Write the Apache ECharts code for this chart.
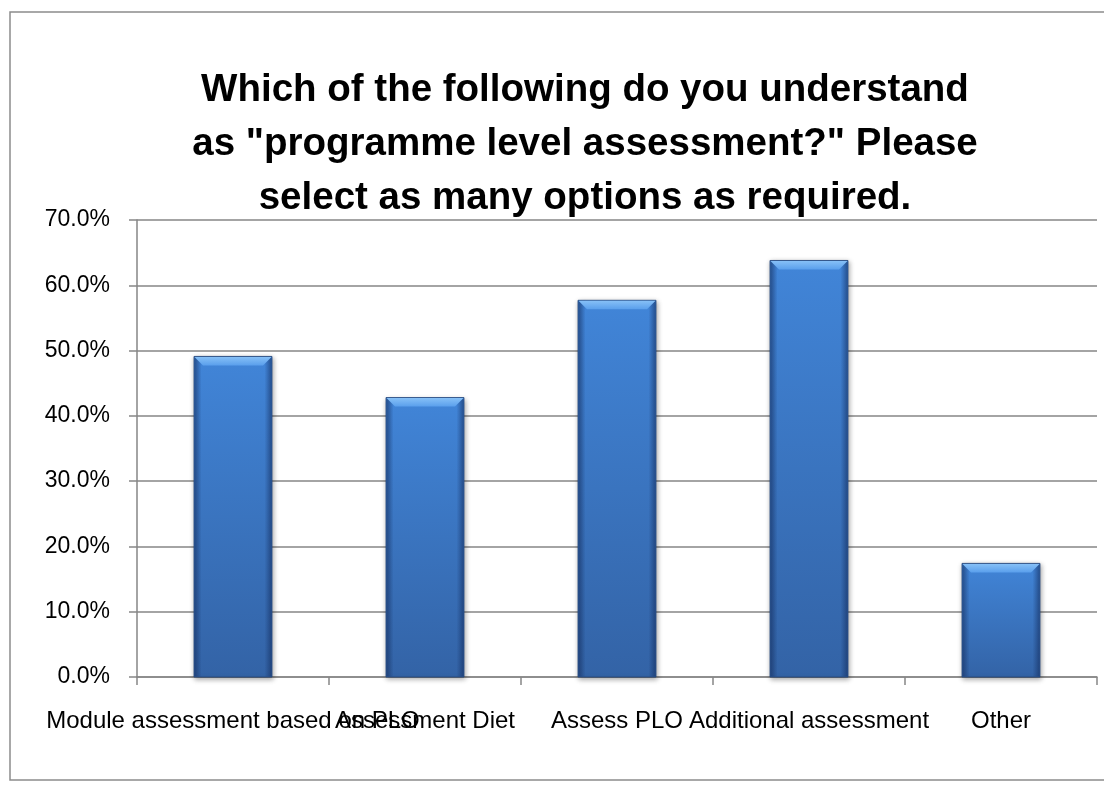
<!DOCTYPE html>
<html>
<head>
<meta charset="utf-8">
<script src="https://cdn.jsdelivr.net/npm/echarts@6/dist/echarts.min.js"></script>
<style>
html,body{margin:0;padding:0;background:#fff;}
#chart{width:1104px;height:792px;}
</style>
</head>
<body>
<div id="chart"></div>
<script>
const titleText = 'Which of the following do you understand\nas "programme level assessment?" Please\nselect as many options as required.';
const categories = ['Module assessment based on PLO', 'Assessment Diet', 'Assess PLO', 'Additional assessment', 'Other'];
const values = [0.491, 0.428, 0.577, 0.638, 0.174];
const yTicks = { min: 0, max: 0.7, interval: 0.1 };

const FONT = "'Liberation Sans', Arial, sans-serif";

function renderBar(params, api) {
  const xi = api.value(0);
  const v = api.value(1);
  const top = api.coord([xi, v]);
  const base = api.coord([xi, 0]);
  const w = api.size([1, 0])[0] * 0.406;
  const x0 = top[0] - w / 2, x1 = top[0] + w / 2;
  const y0 = top[1], y1 = base[1];
  const h = y1 - y0;
  const bev = Math.min(9, h / 3);
  return {
    type: 'group',
    children: [
      {
        type: 'rect',
        shape: { x: x0, y: y0, width: w, height: h },
        style: {
          fill: { type: 'linear', x: 0, y: 0, x2: 0, y2: 1, colorStops: [
            { offset: 0, color: '#4185d8' }, { offset: 1, color: '#3363a6' }] },
          stroke: 'rgba(35,70,125,0.85)',
          lineWidth: 1,
          shadowColor: 'rgba(0,0,0,0.35)',
          shadowBlur: 5,
          shadowOffsetX: 1,
          shadowOffsetY: 2
        }
      },
      {
        type: 'rect',
        shape: { x: x0 + 0.5, y: y0 + 0.5, width: 7, height: h - 1 },
        style: { fill: { type: 'linear', x: 0, y: 0, x2: 1, y2: 0, colorStops: [
          { offset: 0, color: 'rgba(20,45,95,0.55)' }, { offset: 1, color: 'rgba(20,45,95,0)' }] } }
      },
      {
        type: 'rect',
        shape: { x: x1 - 7.5, y: y0 + 0.5, width: 7, height: h - 1 },
        style: { fill: { type: 'linear', x: 0, y: 0, x2: 1, y2: 0, colorStops: [
          { offset: 0, color: 'rgba(20,45,95,0)' }, { offset: 1, color: 'rgba(20,45,95,0.55)' }] } }
      },
      {
        type: 'polygon',
        shape: { points: [[x0 + 0.5, y0 + 0.5], [x1 - 0.5, y0 + 0.5], [x1 - 9, y0 + bev], [x0 + 9, y0 + bev]] },
        style: { fill: { type: 'linear', x: 0, y: 0, x2: 0, y2: 1, colorStops: [
          { offset: 0, color: '#86c0f7' }, { offset: 1, color: '#5a9fec' }] } }
      }
    ]
  };
}

const chart = echarts.init(document.getElementById('chart'), null, { renderer: 'canvas' });
const option = {
  backgroundColor: '#ffffff',
  animation: false,
  graphic: [{
    type: 'rect',
    shape: { x: 10, y: 12, width: 1100, height: 768 },
    style: { fill: 'none', stroke: '#8c8c8c', lineWidth: 1.5 },
    silent: true
  }],
  title: {
    text: titleText,
    left: 580,
    top: 58,
    textAlign: 'center',
    textStyle: {
      fontFamily: FONT,
      fontWeight: 'bold',
      fontSize: 38.5,
      lineHeight: 54,
      color: '#000'
    }
  },
  grid: { left: 137, right: 7, top: 220, bottom: 115, containLabel: false },
  xAxis: {
    type: 'category',
    data: categories,
    axisLine: { lineStyle: { color: '#868686', width: 1.5 } },
    axisTick: { show: true, alignWithLabel: false, length: 8, lineStyle: { color: '#868686', width: 1.5 } },
    axisLabel: {
      interval: 0,
      margin: 32,
      color: '#000',
      fontFamily: FONT,
      fontSize: 24,
      hideOverlap: false
    }
  },
  yAxis: {
    type: 'value',
    min: yTicks.min,
    max: yTicks.max,
    interval: yTicks.interval,
    axisLine: { show: true, lineStyle: { color: '#868686', width: 1.5 } },
    axisTick: { show: true, length: 8, lineStyle: { color: '#868686', width: 1.5 } },
    splitLine: { show: true, lineStyle: { color: '#868686', width: 1.5 } },
    axisLabel: {
      margin: 27,
      color: '#000',
      fontFamily: FONT,
      fontSize: 23,
      formatter: v => (v * 100).toFixed(1) + '%'
    }
  },
  series: [{
    type: 'custom',
    renderItem: renderBar,
    encode: { x: 0, y: 1 },
    data: values.map((v, i) => [i, v])
  }]
};
chart.setOption(option);
</script>
</body>
</html>
